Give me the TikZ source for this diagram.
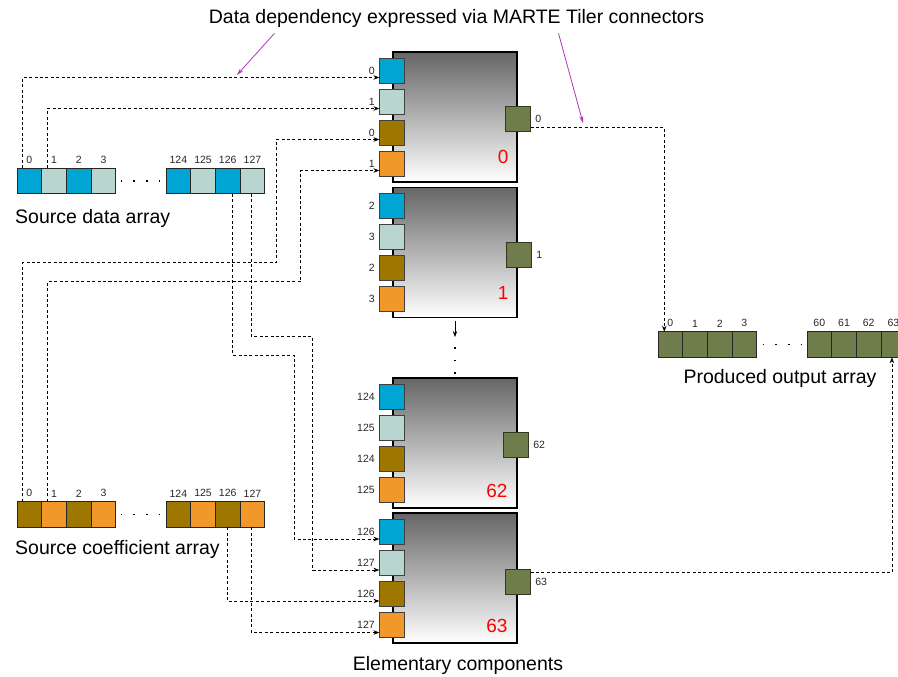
\documentclass[tikz,border=0pt]{standalone}
\usepackage{fontspec}
\setmainfont{Liberation Sans}
\usepackage{tikz}
\usetikzlibrary{arrows.meta, positioning}
\definecolor{tileblue}{HTML}{00A5D4}
\definecolor{tilemint}{HTML}{B9D5CF}
\definecolor{tilebrown}{HTML}{9E7700}
\definecolor{tileorange}{HTML}{F0982A}
\definecolor{tilegreen}{HTML}{6F7D4D}
\definecolor{notepink}{HTML}{B035B8}

\begin{document}
\begin{tikzpicture}[
    x=1pt, y=-1pt,
    node distance=0pt,
    label distance=3.5pt,
    cell/.style={rectangle, draw=black!85, fill=#1, line width=0.9pt, outer sep=0pt,
                 minimum width=24.7pt, minimum height=25.5pt, inner sep=0pt},
    port/.style={rectangle, draw=black!75, fill=#1, line width=0.9pt, minimum size=25pt, inner sep=0pt},
    outport/.style={rectangle, draw=tilegreen!45!black, fill=tilegreen, line width=0.9pt,
                    minimum size=25pt, inner sep=0pt},
    comp/.style={rectangle, draw=black, line width=1.3pt, top color=black!60, bottom color=white,
                 minimum width=124pt, minimum height=130pt, inner sep=0pt},
    idx/.style={font=\fontsize{10.5}{12}\selectfont, inner sep=1pt, text=black!85},
    compnum/.style={font=\fontsize{19}{22}\selectfont, text=red, inner sep=0pt, anchor=south east},
    caption/.style={font=\fontsize{19.5}{23}\selectfont, inner sep=0pt},
    link/.style={line width=0.8pt, dash pattern=on 3pt off 2.4pt},
    arrow/.style={-{Stealth[length=6pt, width=4.5pt]}},
    note/.style={-{Stealth[length=7pt, width=4pt]}, draw=notepink, line width=0.8pt},
    dotline/.style={line width=1.6pt, dash pattern=on 1.6pt off 11pt},
]
\useasboundingbox (0,0) rectangle (898,677);

% Title
\node[caption] (title) at (456.5,18) {Data dependency expressed via MARTE Tiler connectors};

% Source data array
\node[cell=tileblue, label={[idx]above:0}] (d0) at (29.35,181) {};
\node[cell=tilemint, right=of d0, label={[idx]above:1}] (d1) {};
\node[cell=tileblue, right=of d1, label={[idx]above:2}] (d2) {};
\node[cell=tilemint, right=of d2, label={[idx]above:3}] (d3) {};
\node[cell=tileblue, label={[idx]above:124}] (d124) at (178.35,181) {};
\node[cell=tilemint, right=of d124, label={[idx]above:125}] (d125) {};
\node[cell=tileblue, right=of d125, label={[idx]above:126}] (d126) {};
\node[cell=tilemint, right=of d126, label={[idx]above:127}] (d127) {};
\draw[dotline] ([xshift=5pt]d3.east) -- ([xshift=-5pt]d124.west);
\node[caption, anchor=west] (srcdata) at (15,218) {Source data array};

% Source coefficient array
\node[cell=tilebrown, label={[idx]above:0}] (k0) at (29.35,514.5) {};
\node[cell=tileorange, right=of k0, label={[idx]above:1}] (k1) {};
\node[cell=tilebrown, right=of k1, label={[idx]above:2}] (k2) {};
\node[cell=tileorange, right=of k2, label={[idx]above:3}] (k3) {};
\node[cell=tilebrown, label={[idx]above:124}] (k124) at (178.35,514.5) {};
\node[cell=tileorange, right=of k124, label={[idx]above:125}] (k125) {};
\node[cell=tilebrown, right=of k125, label={[idx]above:126}] (k126) {};
\node[cell=tileorange, right=of k126, label={[idx]above:127}] (k127) {};
\draw[dotline] ([xshift=5pt]k3.east) -- ([xshift=-5pt]k124.west);
\node[caption, anchor=west] (srccoef) at (15,549) {Source coefficient array};

% Produced output array
\node[cell=tilegreen, label={[idx]above:0}] (o0) at (670.3,344.5) {};
\node[cell=tilegreen, right=of o0, label={[idx]above:1}] (o1) {};
\node[cell=tilegreen, right=of o1, label={[idx]above:2}] (o2) {};
\node[cell=tilegreen, right=of o2, label={[idx]above:3}] (o3) {};
\node[cell=tilegreen, label={[idx]above:60}] (o60) at (819.3,344.5) {};
\node[cell=tilegreen, right=of o60, label={[idx]above:61}] (o61) {};
\node[cell=tilegreen, right=of o61, label={[idx]above:62}] (o62) {};
\node[cell=tilegreen, right=of o62, label={[idx]above:63}] (o63) {};
\draw[dotline] ([xshift=6pt]o3.east) -- ([xshift=-4pt]o60.west);
\node[caption] (outcap) at (780,378) {Produced output array};

% Elementary components
\node[comp] (c0) at (455,117) {};
\node[port=tileblue, label={[idx]left:0}] (c0a) at ([yshift=46.5pt]c0.west) {};
\node[port=tilemint, label={[idx]left:1}] (c0b) at ([yshift=15.5pt]c0.west) {};
\node[port=tilebrown, label={[idx]left:0}] (c0c) at ([yshift=-15.5pt]c0.west) {};
\node[port=tileorange, label={[idx]left:1}] (c0d) at ([yshift=-46.5pt]c0.west) {};
\node[outport, label={[idx]right:0}] (c0o) at ([yshift=-1.5pt]c0.east) {};
\node[compnum] (n0) at ([xshift=-9pt, yshift=19pt]c0.south east) {0};

\node[comp] (c1) at (455,252.5) {};
\node[port=tileblue, label={[idx]left:2}] (c1a) at ([yshift=46.5pt]c1.west) {};
\node[port=tilemint, label={[idx]left:3}] (c1b) at ([yshift=15.5pt]c1.west) {};
\node[port=tilebrown, label={[idx]left:2}] (c1c) at ([yshift=-15.5pt]c1.west) {};
\node[port=tileorange, label={[idx]left:3}] (c1d) at ([yshift=-46.5pt]c1.west) {};
\node[outport, label={[idx]right:1}] (c1o) at ([xshift=1pt, yshift=-2.5pt]c1.east) {};
\node[compnum] (n1) at ([xshift=-9pt, yshift=18pt]c1.south east) {1};

\node[comp] (c62) at (455,443) {};
\node[port=tileblue, label={[idx]left:124}] (c62a) at ([yshift=46.5pt]c62.west) {};
\node[port=tilemint, label={[idx]left:125}] (c62b) at ([yshift=15.5pt]c62.west) {};
\node[port=tilebrown, label={[idx]left:124}] (c62c) at ([yshift=-15.5pt]c62.west) {};
\node[port=tileorange, label={[idx]left:125}] (c62d) at ([yshift=-46.5pt]c62.west) {};
\node[outport, label={[idx]right:62}] (c62o) at ([xshift=-2pt, yshift=-2pt]c62.east) {};
\node[compnum] (n62) at ([xshift=-10pt, yshift=11pt]c62.south east) {62};

\node[comp] (c63) at (455,578) {};
\node[port=tileblue, label={[idx]left:126}] (c63a) at ([yshift=46.5pt]c63.west) {};
\node[port=tilemint, label={[idx]left:127}] (c63b) at ([yshift=15.5pt]c63.west) {};
\node[port=tilebrown, label={[idx]left:126}] (c63c) at ([yshift=-15.5pt]c63.west) {};
\node[port=tileorange, label={[idx]left:127}] (c63d) at ([yshift=-46.5pt]c63.west) {};
\node[outport, label={[idx]right:63}] (c63o) at ([yshift=-3.5pt]c63.east) {};
\node[compnum] (n63) at ([xshift=-10pt, yshift=11pt]c63.south east) {63};

\node[caption] (elem) at (458,665) {Elementary components};

% Omitted components between 1 and 62
\coordinate (more) at (455,337);
\draw[arrow, line width=0.8pt] ([yshift=-3pt]c1.south) -- (more);
\draw[dotline] (455,347) -- (455,375);

% Tiler connectors into the components
\draw[link, arrow] ([xshift=-6.6pt]d0.north) |- ([yshift=-7pt]c0a.west);
\draw[link, arrow] ([xshift=-6.3pt]d1.north) |- ([yshift=-7pt]c0b.west);
\draw[link, arrow] ([xshift=-6.6pt]k0.north) |- (276,262.7) |- ([yshift=-7pt]c0c.west);
\draw[link, arrow] ([xshift=-6.3pt]k1.north) |- (300.7,281.7) |- ([yshift=-7pt]c0d.west);
\draw[link, arrow] ([xshift=4.7pt]d126.south) |- (294,355) |- ([yshift=-7.5pt]c63a.west);
\draw[link, arrow] ([xshift=-1pt]d127.south) |- (312.7,336.7) |- ([yshift=-7.5pt]c63b.west);
\draw[link, arrow] ([xshift=-0.8pt]k126.south) |- ([yshift=-7.5pt]c63c.west);
\draw[link, arrow] ([xshift=-1.3pt]k127.south) |- ([yshift=-8pt]c63d.west);

% Tiler connectors to the output
\draw[link, arrow] ([yshift=-9pt]c0o.east) -| ([xshift=-6pt]o0.north);
\draw[link, arrow] ([yshift=9pt]c63o.east) -| ([xshift=-1.5pt]o63.south);

% Annotation arrows
\coordinate (tipA) at (237,75);
\coordinate (tipB) at (583,123);
\draw[note] ([xshift=-182pt, yshift=-6pt]title.south) -- (tipA);
\draw[note] ([xshift=102pt, yshift=-6pt]title.south) -- (tipB);

\end{tikzpicture}
\end{document}
